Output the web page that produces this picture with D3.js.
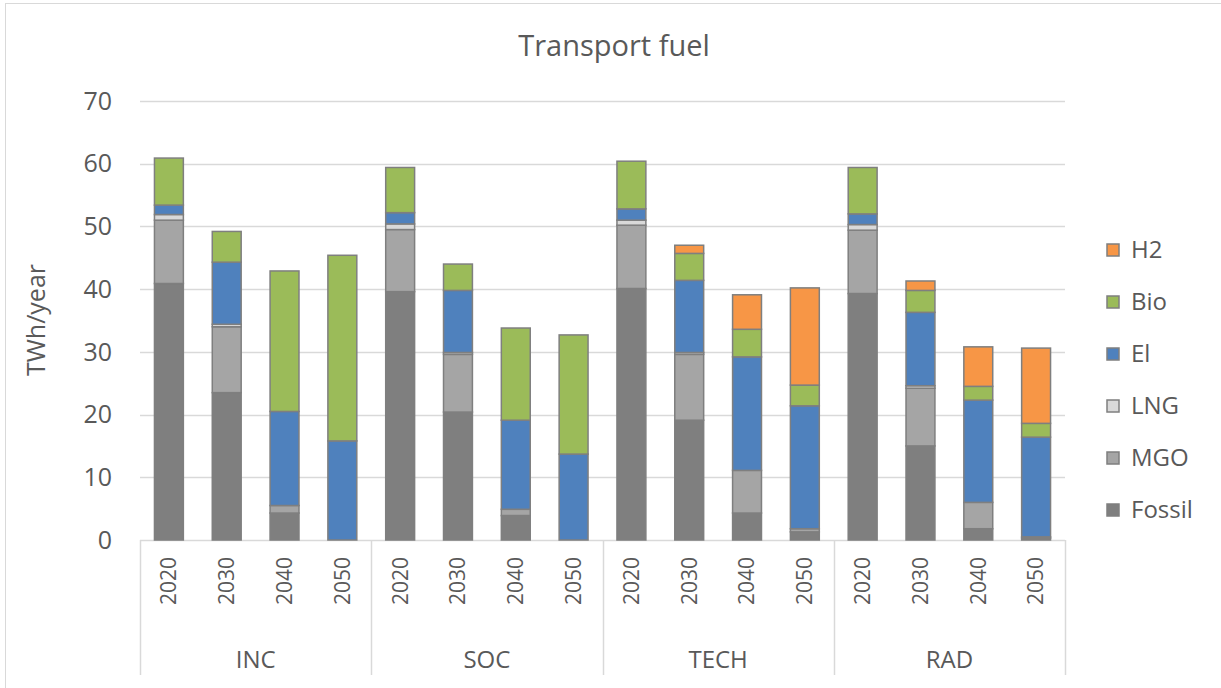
<!DOCTYPE html>
<html>
<head>
<meta charset="UTF-8">
<title>Transport fuel</title>
<script src="https://cdn.jsdelivr.net/npm/d3@7"></script>
<style>
  body { margin: 0; background: #fff; }
  text { font-family: "Open Sans", "Noto Sans", sans-serif; fill: #595959; }
</style>
</head>
<body>
<script>

  // scenarios and years on the category axis
  var scenarios = ["INC", "SOC", "TECH", "RAD"];
  var years = ["2020", "2030", "2040", "2050"];

  // series, bottom to top; each array is INC x4, SOC x4, TECH x4, RAD x4
  var fossil = [40.9, 23.5, 4.3, 0,    39.6, 20.4, 3.9, 0,    40.1, 19.1, 4.3, 1.3,   39.3, 15.0, 1.8, 0.3];
  var mgo    = [10.1, 10.5, 1.2, 0,    9.9,  9.2,  1.0, 0,    10.1, 10.5, 6.8, 0.5,   10.1, 9.2,  4.2, 0.2];
  var lng    = [0.9,  0.4,  0,   0,    0.9,  0.3,  0,   0,    0.8,  0.3,  0,   0,     0.9,  0.4,  0,   0];
  var el     = [1.5,  9.9,  15.0, 15.8, 1.8, 9.9,  14.2, 13.7, 1.8,  11.5, 18.1, 19.6, 1.7,  11.7, 16.3, 15.9];
  var bio    = [7.5,  4.9,  22.4, 29.6, 7.2, 4.2,  14.7, 19.0, 7.6,  4.3,  4.4,  3.3,  7.4,  3.5,  2.2,  2.2];
  var h2     = [0,    0,    0,    0,    0,   0,    0,    0,    0,    1.3,  5.5,  15.5, 0,    1.5,  6.3,  12.0];

  var seriesNames = ["Fossil", "MGO", "LNG", "El", "Bio", "H2"];
  var seriesValues = [fossil, mgo, lng, el, bio, h2];
  var colors = ["#7f7f7f", "#a5a5a5", "#d9d9d9", "#4f81bd", "#9bbb59", "#f79646"];

  var yTicks = [0, 10, 20, 30, 40, 50, 60, 70];

  var width = 1221, height = 688;
  var plot = { left: 140, right: 1065, top: 101, bottom: 540 };

  var rows = [];
  scenarios.forEach(function(s, i) {
    years.forEach(function(yr, j) {
      var r = { key: s + "-" + yr, scenario: s, year: yr };
      seriesNames.forEach(function(n, k) { r[n] = seriesValues[k][i * 4 + j]; });
      rows.push(r);
    });
  });

  var stacked = d3.stack().keys(seriesNames)(rows);

  var x = d3.scaleBand()
    .domain(rows.map(d => d.key))
    .range([plot.left, plot.right])
    .paddingInner(0.5)
    .paddingOuter(0.25);

  var y = d3.scaleLinear()
    .domain([0, 70])
    .range([plot.bottom, plot.top]);

  var color = d3.scaleOrdinal().domain(seriesNames).range(colors);

  var svg = d3.select("body").append("svg")
    .attr("width", width)
    .attr("height", height);

  // chart frame
  svg.append("rect")
    .attr("x", 5.5).attr("y", 3.5)
    .attr("width", 1230).attr("height", 700)
    .attr("fill", "#fff")
    .attr("stroke", "#d9d9d9");

  // gridlines
  svg.append("g")
    .selectAll("line")
    .data(yTicks)
    .enter().append("line")
    .attr("x1", plot.left).attr("x2", plot.right)
    .attr("y1", d => Math.round(y(d)) + 0.5)
    .attr("y2", d => Math.round(y(d)) + 0.5)
    .attr("stroke", "#d9d9d9")
    .attr("stroke-width", 1.5);

  // y tick labels
  svg.append("g")
    .selectAll("text")
    .data(yTicks)
    .enter().append("text")
    .attr("x", 112)
    .attr("y", d => y(d))
    .attr("dy", "0.35em")
    .attr("text-anchor", "end")
    .style("font-size", "25px")
    .text(d => d);

  // category axis: group dividers
  var groupEdges = scenarios.map((s, i) => x(s + "-2020") - x.step() * x.paddingOuter());
  groupEdges.push(plot.right);
  svg.append("g")
    .selectAll("line")
    .data(groupEdges)
    .enter().append("line")
    .attr("x1", d => Math.round(d) + 0.5).attr("x2", d => Math.round(d) + 0.5)
    .attr("y1", plot.bottom).attr("y2", 675)
    .attr("stroke", "#d9d9d9")
    .attr("stroke-width", 1.5);

  // stacked bars
  svg.append("g")
    .selectAll("g")
    .data(stacked)
    .enter().append("g")
    .attr("fill", d => color(d.key))
    .selectAll("rect")
    .data(d => d.filter(p => p[1] - p[0] > 0))
    .enter().append("rect")
    .attr("x", d => x(d.data.key))
    .attr("width", x.bandwidth())
    .attr("y", d => y(d[1]))
    .attr("height", d => y(d[0]) - y(d[1]))
    .attr("stroke", "#7f7f7f")
    .attr("stroke-width", 1.5);

  // year labels
  svg.append("g")
    .selectAll("text")
    .data(rows)
    .enter().append("text")
    .attr("transform", d => `translate(${x(d.key) + x.bandwidth() / 2},557) rotate(-90)`)
    .attr("dy", "0.35em")
    .attr("text-anchor", "end")
    .style("font-size", "21px")
    .text(d => d.year);

  // scenario labels
  svg.append("g")
    .selectAll("text")
    .data(scenarios)
    .enter().append("text")
    .attr("x", (d, i) => (groupEdges[i] + groupEdges[i + 1]) / 2)
    .attr("y", 660)
    .attr("dy", "0.35em")
    .attr("text-anchor", "middle")
    .style("font-size", "24px")
    .text(d => d);

  // title
  svg.append("text")
    .attr("x", 614)
    .attr("y", 56)
    .attr("text-anchor", "middle")
    .style("font-size", "29px")
    .text("Transport fuel");

  // y axis title
  svg.append("text")
    .attr("transform", "translate(36,320) rotate(-90)")
    .attr("dy", "0.35em")
    .attr("text-anchor", "middle")
    .style("font-size", "25px")
    .text("TWh/year");

  // legend, H2 on top
  var legend = svg.append("g")
    .selectAll("g")
    .data(seriesNames.slice().reverse())
    .enter().append("g")
    .attr("transform", (d, i) => `translate(1107,${250 + i * 52})`);

  legend.append("rect")
    .attr("x", 0).attr("y", -6)
    .attr("width", 12).attr("height", 12)
    .attr("fill", d => color(d))
    .attr("stroke", "#7f7f7f")
    .attr("stroke-width", 1.5);

  legend.append("text")
    .attr("x", 24)
    .attr("dy", "0.35em")
    .style("font-size", "24px")
    .text(d => d);

</script>
</body>
</html>
